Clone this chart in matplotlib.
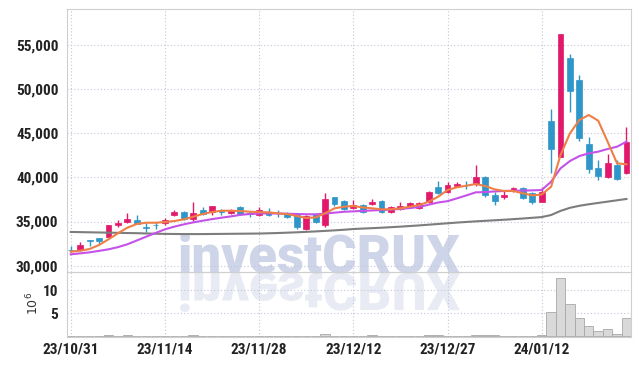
import matplotlib
matplotlib.use("Agg")
import matplotlib.pyplot as plt
from matplotlib import font_manager
from matplotlib.textpath import TextPath
from matplotlib.patches import PathPatch
from matplotlib.font_manager import FontProperties
from matplotlib.transforms import Affine2D

# daily candles, 23/10/31 .. 24/01/25 (trading days)
tick_pos = [0, 10, 20, 30, 40, 50]
tick_labels = ["23/10/31", "23/11/14", "23/11/28", "23/12/12", "23/12/27", "24/01/12"]

opens = [31800, 31800, 32950, 33100, 33300, 34550, 35000, 35150, 34350, 34600,
         34870, 35700, 36050, 35250, 36300, 36080, 36150, 35930, 36600, 35900,
         35750, 36040, 35950, 36000, 35730, 34120, 35840, 34600, 37730, 37350,
         36570, 36860, 36980, 37350, 36110, 36380, 36650, 36500, 37200, 38930,
         38370, 39050, 39180, 39240, 40060, 38030, 37800, 38560, 38750, 38260,
         37240, 46370, 42330, 53460, 51000, 43770, 41080, 40000, 41420, 40520]
closes = [31750, 32300, 32750, 32800, 34600, 34850, 35280, 34750, 34300, 34550,
          35170, 36070, 35250, 35920, 35850, 36750, 36100, 36300, 35850, 35850,
          36300, 35740, 35920, 35470, 34410, 35620, 34980, 37540, 36980, 36420,
          36870, 36110, 37240, 36100, 36600, 36750, 37050, 37100, 38330, 38260,
          39120, 39200, 39100, 40060, 37990, 37350, 38030, 38750, 37690, 37240,
          38370, 43200, 56200, 49800, 44400, 40940, 40180, 41590, 39840, 44000]
highs = [32200, 32700, 32950, 33100, 34650, 35170, 36000, 35700, 34800, 34980,
         35400, 36300, 36150, 37240, 36600, 36800, 36450, 36400, 36800, 36200,
         36670, 36560, 36300, 36100, 35800, 35750, 35950, 38190, 37800, 37400,
         37430, 36950, 37500, 37450, 36750, 37240, 37250, 37200, 38400, 39610,
         39500, 39460, 39600, 41420, 40150, 38300, 38400, 38900, 38850, 38350,
         38940, 47690, 56200, 53940, 51570, 44520, 41950, 42630, 41950, 45720]
lows = [31500, 31700, 32250, 32450, 33250, 34350, 34800, 34700, 33850, 34100,
        34650, 35600, 35200, 35100, 35700, 35730, 35730, 35800, 35750, 35480,
        35650, 35650, 35550, 35400, 34120, 34050, 34800, 34400, 36800, 36300,
        36400, 36000, 36900, 35950, 35950, 36250, 36550, 36400, 37100, 38150,
        38250, 38900, 38650, 39000, 37730, 36870, 37600, 38300, 37600, 36980,
        37200, 40450, 42300, 47420, 44140, 40450, 39690, 39950, 39700, 40400]

# volume in millions of shares
volume = [0.05, 0.05, 0.05, 0.05, 0.3, 0.05, 0.3, 0.05, 0.05, 0.05,
          0.05, 0.05, 0.05, 0.3, 0.05, 0.05, 0.05, 0.05, 0.05, 0.05,
          0.05, 0.05, 0.05, 0.05, 0.05, 0.05, 0.05, 0.5, 0.05, 0.05,
          0.05, 0.05, 0.3, 0.05, 0.05, 0.05, 0.05, 0.05, 0.25, 0.25,
          0.05, 0.05, 0.05, 0.2, 0.2, 0.2, 0.05, 0.05, 0.05, 0.1,
          0.2, 5.4, 12.7, 7.0, 3.9, 2.2, 1.2, 1.5, 0.5, 3.9]

# moving averages
ma_short = [31585, 31700, 31890, 32340, 32985, 33660, 34300, 34716, 34863, 34863,
            34940, 35055, 35248, 35540, 35847, 36073, 36220, 36220, 36186, 36107,
            36060, 36040, 35926, 35847, 35621, 35395, 35470, 35926, 36490, 36673,
            36752, 36600, 36490, 36380, 36380, 36490, 36673, 36865, 37238, 37800,
            38560, 38870, 39048, 39240, 39010, 38640, 38450, 38450, 38190, 37950,
            38050, 38935, 42520, 44970, 46480, 47045, 46400, 44025, 41580, 41470]
ma_mid = [31290, 31400, 31515, 31680, 31855, 32100, 32420, 32850, 33280, 33700,
          34117, 34420, 34680, 34900, 35090, 35270, 35430, 35580, 35750, 35850,
          35900, 35920, 35900, 35880, 35850, 35820, 35810, 35900, 36000, 36100,
          36150, 36200, 36250, 36300, 36350, 36420, 36520, 36650, 36900, 37150,
          37300, 37620, 37950, 38300, 38330, 38400, 38450, 38480, 38500, 38520,
          38560, 39500, 41015, 41840, 42400, 42710, 42900, 43200, 43460, 44025]
ma_long = [33820, 33800, 33780, 33760, 33740, 33720, 33700, 33680, 33650, 33620,
           33600, 33590, 33580, 33580, 33580, 33590, 33600, 33610, 33620, 33630,
           33640, 33670, 33700, 33740, 33780, 33830, 33880, 33940, 34000, 34070,
           34150, 34200, 34250, 34300, 34360, 34420, 34490, 34560, 34640, 34720,
           34800, 34880, 34950, 35020, 35080, 35140, 35200, 35270, 35340, 35420,
           35500, 35734, 36200, 36550, 36780, 36950, 37100, 37250, 37400, 37550]

UP = "#e2196b"
DOWN = "#2f96c9"
GRID = "#c3c6dc"
SPINE = "#cfcfcf"
tick_fp = FontProperties(family=["Roboto Condensed", "Liberation Sans Narrow",
                                 "Roboto"],
                         stretch="condensed", weight="bold", size=11)


def heavy_font():
    # pick an installed upright black/extra-bold face for the watermark
    for fam in ["Roboto", "Lato", "Inter", "Open Sans", "Noto Sans"]:
        best = None
        for f in font_manager.fontManager.ttflist:
            fn = f.fname.lower()
            if f.name != fam or f.style != "normal":
                continue
            if "italic" in fn or "oblique" in fn:
                continue
            w = f.weight if isinstance(f.weight, int) else 700
            if w >= 800 and (best is None or w > best[0]):
                best = (w, f.fname)
        if best:
            return FontProperties(fname=best[1])
    return FontProperties(family="DejaVu Sans", weight="bold")


fig = plt.figure(figsize=(6.39, 3.66), dpi=100)
fig.patch.set_facecolor("white")
ax = fig.add_axes([0.1044, 0.2568, 0.8826, 0.7186])
axv = fig.add_axes([0.1044, 0.0792, 0.8826, 0.1776], sharex=ax)

# watermark: real text, sized to the reference box, plus a mirrored copy
wm_fp = heavy_font()
wm = fig.text(177.7 / 639, 1 - 272.7 / 366, "investCRUX", fontproperties=wm_fp,
              fontsize=40, color="#cfd5e8", ha="left", va="baseline", zorder=-1)
renderer = fig.canvas.get_renderer()
wsize = 40 * 282.3 / wm.get_window_extent(renderer).width
wm.set_fontsize(wsize)
tp = TextPath((0, 0), "investCRUX", size=wsize, prop=wm_fp)
tr = (Affine2D().scale(100 / 72, -100 / 72).translate(177.7, 366 - 272.7)
      .scale(0.01) + fig.dpi_scale_trans)
fig.add_artist(PathPatch(tp, facecolor="#e9ebf4", edgecolor="none",
                         transform=tr, zorder=-1))

x = list(range(len(opens)))
for i in x:
    o, c = opens[i], closes[i]
    col = UP if c >= o else DOWN
    ax.vlines(i, lows[i], highs[i], color=col, lw=1.0, zorder=2)
    ax.bar(i, max(abs(c - o), 70), bottom=min(o, c), width=0.62,
           color=col, edgecolor=col, lw=0.5, zorder=2)

ax.plot(x, ma_long, color="#7d7d7d", lw=1.5, zorder=3)
ax.plot(x, ma_mid, color="#c552e8", lw=1.5, zorder=3)
ax.plot(x, ma_short, color="#ee7f45", lw=1.5, zorder=3)

axv.bar(x, volume, width=1.0, color="#d9d9d9", edgecolor="#a8a8a8", lw=0.6)

ax.set_xlim(-0.43, 59.45)
ax.set_ylim(29290, 59030)
yt = [30000, 35000, 40000, 45000, 50000, 55000]
ax.set_yticks(yt)
ax.set_yticklabels(["{:,}".format(v) for v in yt])
ax.set_xticks(tick_pos)
ax.tick_params(labelbottom=False)

axv.set_ylim(-0.15, 14.0)
axv.set_yticks([5, 10])
axv.set_yticklabels(["5", "10"])
axv.set_xticklabels(tick_labels)

for a in (ax, axv):
    a.set_facecolor("none")
    a.grid(True, ls=(0, (1, 2)), color=GRID, lw=0.8)
    a.set_axisbelow(True)
    for s in a.spines.values():
        s.set_color(SPINE)
    a.tick_params(length=0, pad=6, labelcolor="#222222")
    for lab in a.get_yticklabels() + a.get_xticklabels():
        lab.set_fontproperties(tick_fp)
axv.tick_params(axis="x", pad=4)

fig.text(33 / 639, 1 - 303 / 366, r"10$^6$", rotation=90, ha="center",
         va="center", fontsize=9, color="#333333")

fig.savefig("out.png", dpi=100)
